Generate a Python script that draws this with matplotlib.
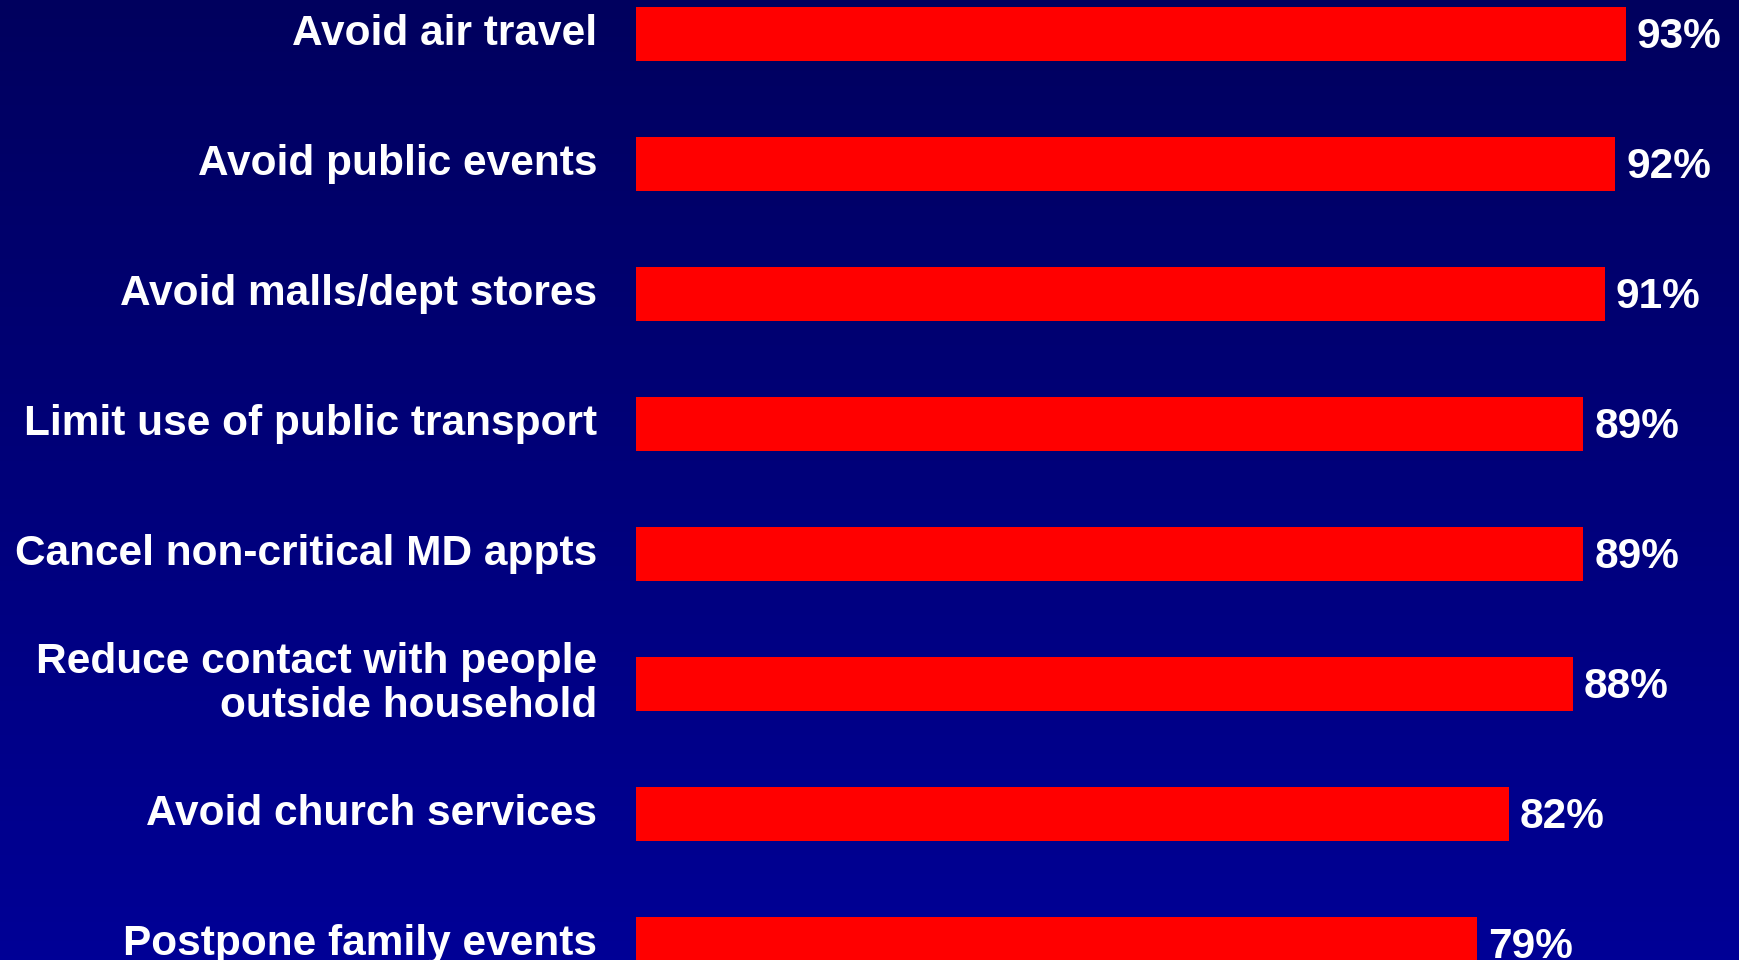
"""
Horizontal bar chart: share of people who would take each precaution
"""
import numpy as np
import matplotlib.pyplot as plt
from matplotlib.colors import LinearSegmentedColormap

# Data
actions = ['Avoid air travel', 'Avoid public events', 'Avoid malls/dept stores',
           'Limit use of public transport', 'Cancel non-critical MD appts',
           'Reduce contact with people\noutside household', 'Avoid church services',
           'Postpone family events']
percent = [93, 92, 91, 89, 89, 88, 82, 79]
value_labels = ['93%', '92%', '91%', '89%', '89%', '88%', '82%', '79%']

W, H = 1739, 960
fig = plt.figure(figsize=(W / 100, H / 100), dpi=100)

# Background gradient, dark navy at top to brighter blue at bottom
bg = fig.add_axes([0, 0, 1, 1])
bg_cmap = LinearSegmentedColormap.from_list('navy', ['#00005e', '#000096'])
bg.imshow(np.linspace(0, 1, 256).reshape(-1, 1), aspect='auto', cmap=bg_cmap,
          extent=[0, 1, 0, 1], origin='upper')
bg.axis('off')

# Bar axes: zero at x=636px, ~10.645px per percent; bars every 130px
x0_px = 636
px_per_pct = 10.645
pitch = 130
top_center = 34
ax = fig.add_axes([x0_px / W, 0, 1 - x0_px / W, 1])
ax.patch.set_alpha(0)
ax.set_xlim(0, (W - x0_px) / px_per_pct)
ax.set_ylim((H - top_center) / pitch, -top_center / pitch)
ax.axis('off')

y = np.arange(len(actions))
ax.barh(y, percent, height=54 / pitch, color='#ff0000', left=0)

font = dict(family=['Liberation Sans', 'DejaVu Sans'], fontsize=30.5, fontweight='bold', color='white')
for i, (name, val, lab) in enumerate(zip(actions, percent, value_labels)):
    ax.text(-39 / px_per_pct, i, name, ha='right', va='center', clip_on=False,
            linespacing=1.1, **font)
    ax.text(val + 11 / px_per_pct, i + 0.02, lab, ha='left', va='center', clip_on=False, **font)

plt.savefig('out.png', dpi=100)
plt.close()
